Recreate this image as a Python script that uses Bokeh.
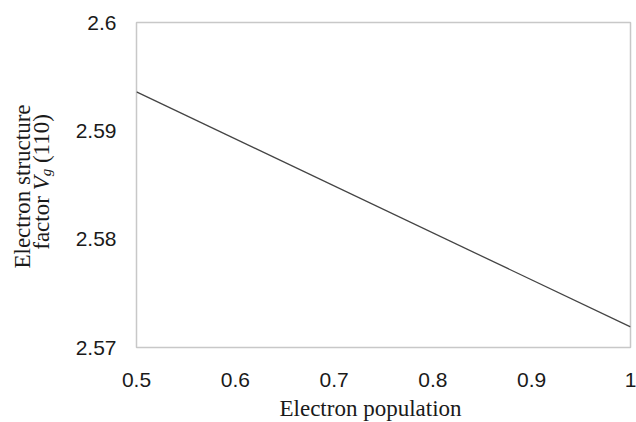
import math
from bokeh.plotting import figure
from bokeh.models import Range1d, FixedTicker, Label, GridBox, Column
from bokeh.embed import file_html
from bokeh.resources import INLINE

# data
population = [0.5, 1.0]
structure_factor = [2.5936, 2.5719]
x_ticks = [0.5, 0.6, 0.7, 0.8, 0.9, 1.0]
x_tick_labels = ["0.5", "0.6", "0.7", "0.8", "0.9", "1"]
y_ticks = [2.57, 2.58, 2.59, 2.6]
y_tick_labels = ["2.57", "2.58", "2.59", "2.6"]
x_title = "Electron population"
y_title_line1 = "Electron structure"

W, H = 636, 422
BL, BR, BT, BB = 136, 6, 22, 75

p = figure(width=W, height=H, output_backend="svg", toolbar_location=None,
           x_range=Range1d(0.5, 1.0), y_range=Range1d(2.57, 2.6),
           min_border_left=BL, min_border_right=BR, min_border_top=BT,
           min_border_bottom=BB, title=None)
p.background_fill_color = "white"
p.border_fill_color = "white"
p.outline_line_color = "#c8c8c8"
p.outline_line_width = 1.5
p.xgrid.visible = False
p.ygrid.visible = False

for ax in (p.xaxis[0], p.yaxis[0]):
    ax.axis_line_color = None
    ax.major_tick_line_color = None
    ax.minor_tick_line_color = None
    ax.major_tick_out = 0
    ax.major_tick_in = 0
    ax.minor_tick_out = 0
    ax.major_label_text_font = "Liberation Sans"
    ax.major_label_text_font_size = "21px"
    ax.major_label_text_color = "#1a1a1a"

p.xaxis.ticker = FixedTicker(ticks=x_ticks)
p.yaxis.ticker = FixedTicker(ticks=y_ticks)
p.xaxis.major_label_overrides = dict(zip(x_ticks, x_tick_labels))
p.yaxis.major_label_overrides = dict(zip(y_ticks, y_tick_labels))
p.xaxis.major_label_standoff = 25
p.yaxis.major_label_standoff = 20

p.line(population, structure_factor, line_color="#444444", line_width=1.3)

# transparent overlay figure for the axis titles (frame = whole canvas)
o = figure(width=W, height=H, output_backend="svg", toolbar_location=None,
           x_range=Range1d(0, 1), y_range=Range1d(0, 1),
           x_axis_location=None, y_axis_location=None, min_border=0,
           title=None)
o.background_fill_color = None
o.border_fill_color = None
o.outline_line_color = None
for g in o.grid:
    g.visible = False

serif = "Liberation Serif"
fs = 23
o.add_layout(Label(x=370, y=H - 408, x_units="screen", y_units="screen",
                   text=x_title, text_font=serif, text_font_size=f"{fs}px",
                   text_align="center", text_baseline="alphabetic",
                   text_color="#1a1a1a"))

o.add_layout(Label(x=22, y=H - 186, x_units="screen", y_units="screen",
                   text=y_title_line1, angle=math.pi / 2, text_font=serif,
                   text_font_size=f"{fs}px", text_align="center",
                   text_baseline="alphabetic", text_color="#1a1a1a"))

# second line: "factor V_g (110)"  (pre, text, style, size, dx, width)
pieces = [(0, "factor", "normal", fs, 0, 2.332 * fs),
          (0.25 * fs, "V", "italic", fs, 0, 0.611 * fs),
          (0, "g", "italic", 15, 4, 0.5 * 15),
          (0.25 * fs, "(110)", "normal", fs, 0, 2.166 * fs)]
total = sum(pre + w for pre, *_, w in pieces)
yy = (H - 181) - total / 2
bx = 41
for pre, txt, style, size, dx, w in pieces:
    yy += pre
    o.add_layout(Label(x=bx + dx, y=yy, x_units="screen", y_units="screen",
                       text=txt, angle=math.pi / 2, text_font=serif,
                       text_font_style=style, text_font_size=f"{size}px",
                       text_align="left", text_baseline="alphabetic",
                       text_color="#1a1a1a"))
    yy += w

layout = GridBox(children=[(p, 0, 0), (Column(children=[o]), 0, 0)])
open("out.html", "w").write(file_html(layout, INLINE))
